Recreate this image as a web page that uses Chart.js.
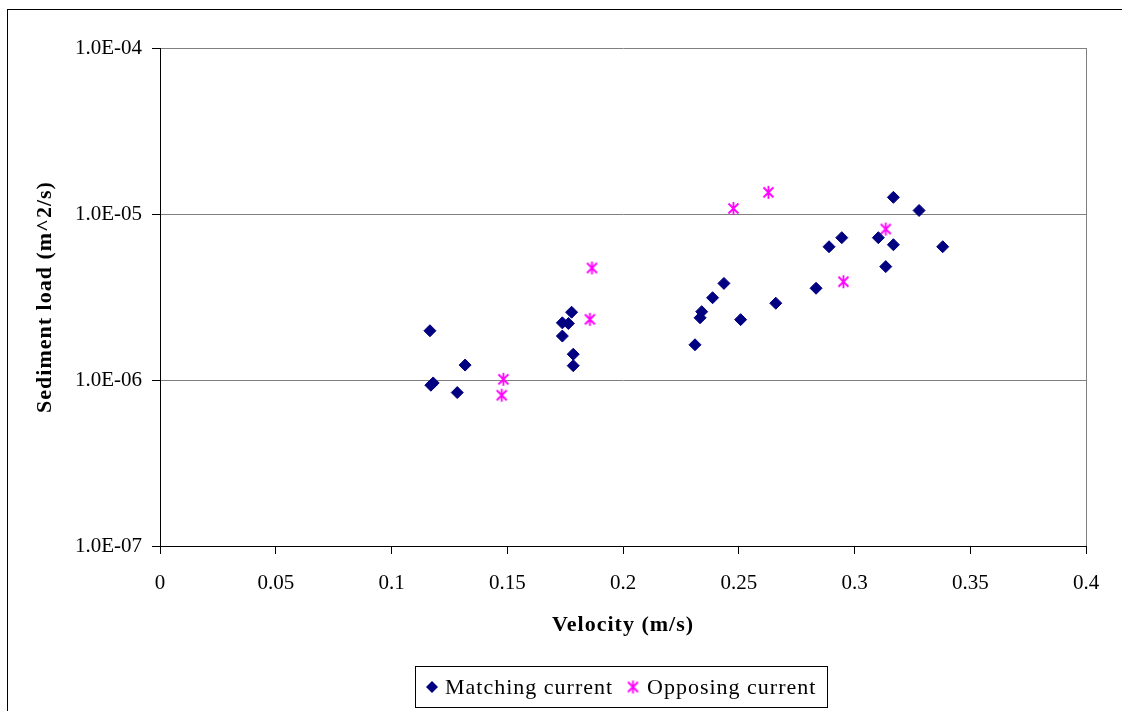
<!DOCTYPE html>
<html>
<head>
<meta charset="utf-8">
<script src="https://cdn.jsdelivr.net/npm/chart.js@4/dist/chart.umd.min.js"></script>
<style>
html, body { margin: 0; padding: 0; background: #fff; }
#wrap { position: relative; width: 1122px; height: 711px; overflow: hidden; }
#frame { position: absolute; left: 7px; top: 9px; width: 1200px; height: 800px; border: 1px solid #000; box-sizing: border-box; }
#chart { position: absolute; left: 0; top: 0; }
</style>
</head>
<body>
<div id="wrap">
  <div id="frame"></div>
  <canvas id="chart" width="1122" height="711"></canvas>
</div>
<script>
'use strict';

// Matching current (velocity m/s, sediment load m^2/s)
const matchingVelocity = [0.1166, 0.117, 0.118, 0.1284, 0.1318, 0.1738, 0.1738, 0.1764, 0.1778, 0.1785, 0.1785,
    0.2311, 0.2333, 0.2340, 0.2387, 0.2436, 0.2508, 0.2660, 0.2834, 0.2890, 0.2945, 0.3103, 0.3135, 0.3168, 0.3168, 0.3279, 0.3381];
const matchingLoad = [1.98e-6, 9.3e-7, 9.6e-7, 8.4e-7, 1.23e-6, 2.21e-6, 1.84e-6, 2.19e-6, 2.56e-6, 1.43e-6, 1.22e-6,
    1.63e-6, 2.37e-6, 2.58e-6, 3.13e-6, 3.82e-6, 2.31e-6, 2.90e-6, 3.57e-6, 6.35e-6, 7.2e-6, 7.2e-6, 4.82e-6, 6.53e-6, 1.26e-5, 1.05e-5, 6.35e-6];

// Opposing current
const opposingVelocity = [0.1476, 0.1483, 0.1857, 0.1866, 0.2477, 0.2628, 0.2952, 0.3135];
const opposingLoad = [8.1e-7, 1.01e-6, 2.32e-6, 4.73e-6, 1.08e-5, 1.35e-5, 3.91e-6, 8.12e-6];

// Axis ticks
const yTickValues = [1e-7, 1e-6, 1e-5, 1e-4];
const yTickLabels = ['1.0E-07', '1.0E-06', '1.0E-05', '1.0E-04'];
const xTickValues = [0, 0.05, 0.1, 0.15, 0.2, 0.25, 0.3, 0.35, 0.4];
const xTickLabels = ['0', '0.05', '0.1', '0.15', '0.2', '0.25', '0.3', '0.35', '0.4'];

const seriesNames = ['Matching current', 'Opposing current'];
const xTitle = 'Velocity (m/s)';
const yTitle = 'Sediment load (m^2/s)';

const NAVY = '#000080';
const MAGENTA = '#FF00FF';
const SERIF = '"Liberation Serif", "Times New Roman", serif';

// Excelっぽいアスタリスク型マーカー
function makeStar() {
    const c = document.createElement('canvas');
    c.width = 15;
    c.height = 15;
    const g = c.getContext('2d');
    g.strokeStyle = MAGENTA;
    g.lineWidth = 1.8;
    g.beginPath();
    g.moveTo(2.5, 2.5); g.lineTo(12.5, 12.5);
    g.moveTo(12.5, 2.5); g.lineTo(2.5, 12.5);
    g.moveTo(7.5, 1); g.lineTo(7.5, 14);
    g.stroke();
    return c;
}
const starImg = makeStar();

function toPoints(xs, ys) {
    return xs.map((x, i) => ({ x: x, y: ys[i] }));
}

function findLabel(values, labels, value) {
    const i = values.findIndex(v => Math.abs(v - value) < Math.abs(v) * 1e-6 + 1e-12);
    return i >= 0 ? labels[i] : '';
}

// タイトルと凡例を描くプラグイン
const decorPlugin = {
    id: 'decor',
    afterDraw(chart) {
        const ctx = chart.ctx;
        ctx.save();
        ctx.fillStyle = '#000';
        ctx.letterSpacing = '1px';
        ctx.font = 'bold 22px ' + SERIF;
        ctx.textAlign = 'center';
        ctx.textBaseline = 'middle';
        ctx.fillText(xTitle, 623, 625);

        ctx.save();
        ctx.translate(45, 297);
        ctx.rotate(-Math.PI / 2);
        ctx.fillText(yTitle, 0, 0);
        ctx.restore();

        // 凡例
        ctx.strokeStyle = '#000';
        ctx.lineWidth = 1;
        ctx.strokeRect(415.5, 666.5, 412, 41);

        ctx.fillStyle = NAVY;
        ctx.beginPath();
        ctx.moveTo(432, 681);
        ctx.lineTo(438, 687);
        ctx.lineTo(432, 693);
        ctx.lineTo(426, 687);
        ctx.closePath();
        ctx.fill();
        ctx.drawImage(starImg, 633 - 7.5, 687 - 7.5);

        ctx.fillStyle = '#000';
        ctx.font = '22px ' + SERIF;
        ctx.textAlign = 'left';
        ctx.textBaseline = 'alphabetic';
        ctx.fillText(seriesNames[0], 445, 694);
        ctx.fillText(seriesNames[1], 647, 694);
        ctx.restore();
    }
};

const chart = new Chart(document.getElementById('chart'), {
    type: 'scatter',
    data: {
        datasets: [
            {
                label: seriesNames[0],
                data: toPoints(matchingVelocity, matchingLoad),
                pointStyle: 'rectRot',
                pointRadius: 6,
                backgroundColor: NAVY,
                borderColor: NAVY,
                borderWidth: 1
            },
            {
                label: seriesNames[1],
                data: toPoints(opposingVelocity, opposingLoad),
                pointStyle: starImg,
                pointRadius: 7,
                backgroundColor: MAGENTA,
                borderColor: MAGENTA
            }
        ]
    },
    options: {
        responsive: false,
        animation: false,
        layout: { padding: { left: 0, top: 48, right: 36, bottom: 0 } },
        plugins: {
            legend: { display: false },
            tooltip: { enabled: false }
        },
        scales: {
            x: {
                type: 'linear',
                min: xTickValues[0],
                max: xTickValues[xTickValues.length - 1],
                afterFit: scale => { scale.height = 165; },
                afterBuildTicks: scale => {
                    scale.ticks = xTickValues.map(v => ({ value: v }));
                },
                ticks: {
                    padding: 17,
                    color: '#000',
                    font: { family: SERIF, size: 21 },
                    callback: value => findLabel(xTickValues, xTickLabels, value)
                },
                grid: {
                    color: c => (c.tick && Math.abs(c.tick.value - 0.4) < 1e-9) ? '#808080' : 'rgba(0,0,0,0)',
                    tickColor: '#000',
                    tickLength: 8,
                    lineWidth: 1
                },
                border: { color: '#000', width: 1 }
            },
            y: {
                type: 'logarithmic',
                min: yTickValues[0],
                max: yTickValues[yTickValues.length - 1],
                afterFit: scale => { scale.width = 160; },
                afterBuildTicks: scale => {
                    scale.ticks = yTickValues.map(v => ({ value: v, major: true }));
                },
                ticks: {
                    padding: 10,
                    color: '#000',
                    font: { family: SERIF, size: 21 },
                    callback: value => findLabel(yTickValues, yTickLabels, value)
                },
                grid: {
                    color: '#808080',
                    tickColor: '#000',
                    tickLength: 8,
                    lineWidth: 1
                },
                border: { color: '#000', width: 1 }
            }
        }
    },
    plugins: [decorPlugin]
});
</script>
</body>
</html>
